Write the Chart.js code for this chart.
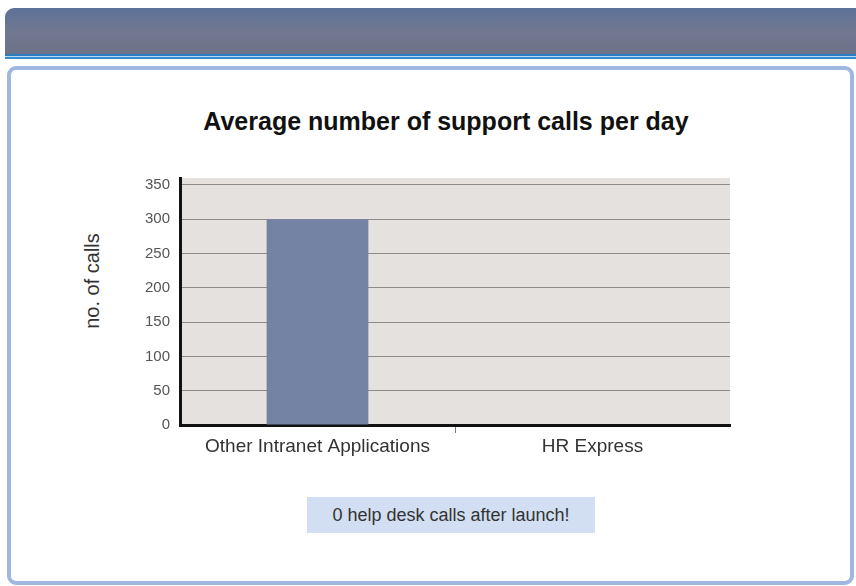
<!DOCTYPE html>
<html>
<head>
<meta charset="utf-8">
<script src="https://cdn.jsdelivr.net/npm/chart.js@4"></script>
<style>
  html, body { margin: 0; padding: 0; background: #fff; }
  body { width: 856px; height: 586px; position: relative; overflow: hidden; font-family: 'Liberation Sans', Arial, sans-serif; }
  #header {
    position: absolute; left: 5px; top: 8px; width: 860px; height: 46px;
    border-radius: 9px 9px 0 0;
    background: linear-gradient(#5d7298, #727890 55%, #6c7287);
  }
  #stripe {
    position: absolute; left: 5px; top: 54px; width: 860px; height: 5px;
    background: linear-gradient(#2b7cc0 0, #2b7cc0 1.5px, #b4dcf4 1.5px, #b4dcf4 3.5px, #3a8bcb 3.5px);
  }
  #panel {
    position: absolute; left: 7px; top: 66px; width: 839px; height: 511px;
    border: 4px solid #9eb8e2; border-radius: 9px; background: #fff;
  }
  #title {
    position: absolute; left: 146px; width: 600px; top: 106px; height: 30px;
    text-align: center; font-size: 25px; line-height: 30px; font-weight: bold; color: #111;
  }
  #ylabel {
    position: absolute; left: 92px; top: 281px; width: 160px; height: 24px;
    margin-left: -80px; margin-top: -12px; transform: rotate(-90deg);
    text-align: center; font-size: 20px; line-height: 24px; color: #333;
  }
  #note {
    position: absolute; left: 307px; top: 497px; width: 288px; height: 36px;
    background: #d2dff2; color: #333; font-size: 18px; line-height: 36px; text-align: center;
  }
  #wrap { position: absolute; left: 0; top: 0; width: 856px; height: 586px; }
</style>
</head>
<body>
<div id="header"></div>
<div id="stripe"></div>
<div id="panel"></div>
<div id="title">Average number of support calls per day</div>
<div id="ylabel">no. of calls</div>
<div id="note">0 help desk calls after launch!</div>
<div id="wrap"><canvas id="myChart" width="856" height="586"></canvas></div>
<script>
const categories = ['Other Intranet Applications', 'HR Express'];
const callsPerDay = [300, 0];
const yTicks = [0, 50, 100, 150, 200, 250, 300, 350];

// grey plot background
const plotBg = {
  id: 'plotBg',
  beforeDraw(chart) {
    const { ctx, chartArea: a } = chart;
    ctx.save();
    ctx.fillStyle = '#e4e1de';
    ctx.fillRect(a.left, a.top, a.right - a.left, a.bottom - a.top);
    ctx.restore();
  }
};

const ctx = document.getElementById('myChart').getContext('2d');

new Chart(ctx, {
  type: 'bar',
  data: {
    labels: categories,
    datasets: [{
      data: callsPerDay,
      backgroundColor: '#7482a3',
      borderWidth: 0,
      barPercentage: 0.37,
      categoryPercentage: 1
    }]
  },
  options: {
    responsive: false,
    animation: false,
    layout: { padding: { left: 60, right: 126, top: 178, bottom: 121 } },
    plugins: {
      legend: { display: false },
      tooltip: { enabled: false }
    },
    scales: {
      x: {
        afterFit(scale) { scale.height = 40; },
        border: { color: '#111', width: 3 },
        grid: {
          drawOnChartArea: false,
          drawTicks: true,
          tickLength: 8,
          color: c => c.index === 1 ? '#777' : 'rgba(0,0,0,0)'
        },
        ticks: {
          color: '#333',
          padding: 2,
          font: { family: "'Liberation Sans', Arial, sans-serif", size: 19 }
        }
      },
      y: {
        min: 0,
        max: 360,
        afterFit(scale) { scale.width = 120; },
        afterBuildTicks(scale) {
          scale.ticks = yTicks.map(v => ({ value: v }));
        },
        border: { color: '#111', width: 3 },
        grid: {
          drawTicks: false,
          color: '#8d8a87',
          lineWidth: 1
        },
        ticks: {
          color: '#555',
          padding: 10,
          font: { family: "'Liberation Sans', Arial, sans-serif", size: 15 }
        }
      }
    }
  },
  plugins: [plotBg]
});
</script>
</body>
</html>
